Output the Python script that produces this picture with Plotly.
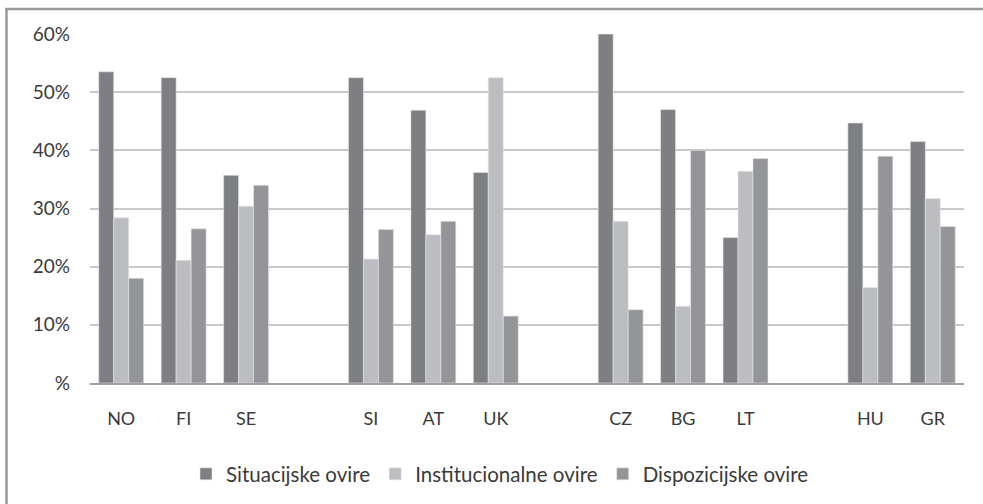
import plotly.graph_objects as go

categories = ["NO", "FI", "SE", " ", "SI", "AT", "UK", "  ", "CZ", "BG", "LT", "   ", "HU", "GR"]
situacijske = [53.5, 52.5, 35.7, None, 52.5, 46.9, 36.2, None, 60.0, 47.0, 25.0, None, 44.7, 41.5]
institucionalne = [28.4, 21.1, 30.4, None, 21.3, 25.5, 52.5, None, 27.8, 13.2, 36.4, None, 16.4, 31.7]
dispozicijske = [18.0, 26.5, 34.0, None, 26.4, 27.8, 11.5, None, 12.6, 40.0, 38.6, None, 39.0, 26.9]
series_names = ["Situacijske ovire", "Institucionalne ovire", "Dispozicijske ovire"]
tick_vals = [0, 10, 20, 30, 40, 50, 60]
tick_text = ["%", "10%", "20%", "30%", "40%", "50%", "60%"]

colors = ["#7e7f83", "#bcbdc1", "#949599"]

fig = go.Figure()
for name, vals, c in zip(series_names, [situacijske, institucionalne, dispozicijske], colors):
    fig.add_trace(go.Bar(x=categories, y=vals, name=name,
                         marker=dict(color=c, line=dict(color="#e6e6e6", width=0.6))))

W, H = 983, 504
L, R, T, B = 90, 19, 34, 121
pw, ph = W - L - R, H - T - B

def px(x):
    return (x - L) / pw

def py(y):
    return (H - B - y) / ph

fig.update_layout(
    width=W, height=H,
    margin=dict(l=L, r=R, t=T, b=B, autoexpand=False),
    paper_bgcolor="white", plot_bgcolor="white",
    barmode="group", bargap=0.28, bargroupgap=0,
    font=dict(family="Lato, Carlito, sans-serif", size=17, color="#3a3a3a"),
    showlegend=True,
    legend=dict(orientation="h", x=px(500), xanchor="center", y=py(474), yanchor="middle",
                font=dict(size=20.5, color="#3a3a3a"), itemwidth=30, tracegroupgap=0),
    xaxis=dict(type="category", showgrid=False, showline=True, linecolor="#a0a0a0", linewidth=2,
               ticks="", tickfont=dict(size=18), ticklabelstandoff=18),
    yaxis=dict(range=[0, 60], tickvals=tick_vals, ticktext=tick_text, showgrid=True,
               gridcolor="#c8c8c8", gridwidth=1.5, zeroline=False, showline=False, ticks="",
               tickfont=dict(size=19), ticklabelstandoff=19),
    shapes=[
        dict(type="line", xref="paper", yref="paper", x0=px(5), x1=px(983), y0=py(9), y1=py(9),
             line=dict(color="#9a9a9a", width=2.5)),
        dict(type="line", xref="paper", yref="paper", x0=px(6.5), x1=px(6.5), y0=py(8), y1=py(504),
             line=dict(color="#9a9a9a", width=2.5)),
    ],
)

fig.write_html("out.html", config={"displayModeBar": False},
               post_script="document.body.style.margin='0';document.body.style.overflow='hidden';")
